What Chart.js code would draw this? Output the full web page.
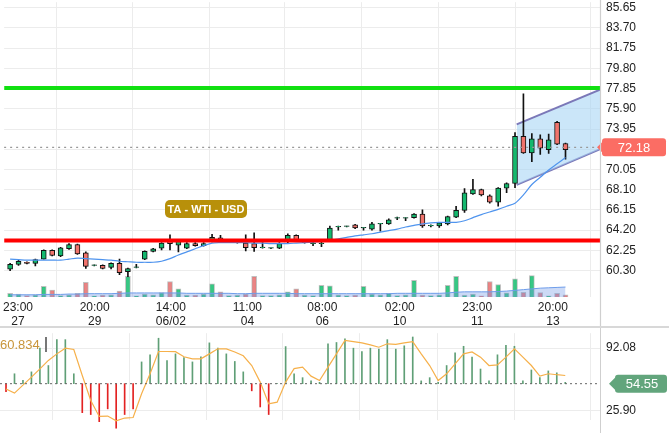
<!DOCTYPE html>
<html>
<head>
<meta charset="utf-8">
<script src="https://cdn.jsdelivr.net/npm/chart.js@4.4.0/dist/chart.umd.min.js"></script>
<style>
  body { margin: 0; background: #fff; width: 669px; height: 433px; overflow: hidden; }
  #main { position: absolute; left: 0; top: -11px; }
  #osc { position: absolute; left: 0; top: 320px; }
  .sep { position: absolute; left: 0; top: 326px; width: 669px; height: 2px; background: #d8d8d8; z-index: 2; }
</style>
</head>
<body>
<canvas id="main" width="669" height="337"></canvas>
<canvas id="osc" width="669" height="113"></canvas>
<div class="sep"></div>
<script>
// candles, one per index
const opens  = [60.43,60.9,61.1,61.0,61.4,62.25,61.7,62.4,62.8,62.0,60.8,60.8,60.6,61.0,60.2,60.6,61.4,62.15,62.45,63.2,62.75,62.45,62.9,62.7,63.1,63.45,63.2,63.0,62.95,62.9,62.5,62.45,62.45,63.2,63.7,63.0,62.9,62.9,63.2,64.5,64.55,64.7,64.4,64.3,64.8,64.8,65.35,65.35,65.4,65.75,64.6,64.6,64.8,65.45,66.1,67.7,68.1,67.5,66.9,68.25,68.7,73.25,71.65,73.0,71.95,74.6,72.55];
const closes = [60.91,61.2,61.0,61.36,62.25,61.77,62.5,62.8,61.9,60.7,60.82,60.5,61.0,60.1,60.5,60.62,62.15,62.4,62.95,62.9,63.2,62.9,62.7,62.9,63.5,63.2,63.2,63.0,62.5,62.5,62.5,62.45,62.9,63.7,63.2,63.0,62.9,62.9,64.4,64.5,64.55,64.4,64.4,64.8,64.8,65.2,65.35,65.35,65.75,64.6,64.6,64.9,65.5,66.1,67.8,68.1,67.6,66.9,68.25,68.7,73.25,71.65,73.0,72.1,72.9,72.5,71.95];
const highs  = [61.0,61.3,61.15,61.4,62.3,62.3,62.55,62.9,62.85,62.1,60.85,60.85,61.05,61.4,60.55,60.9,62.2,62.45,63.0,63.75,63.25,63.0,63.0,63.0,63.8,63.7,63.3,63.1,63.75,63.95,63.0,62.5,63.0,63.85,63.75,63.2,63.1,63.2,64.6,64.6,64.6,64.75,64.45,64.95,64.85,65.3,65.45,65.4,65.8,66.15,64.7,64.95,65.55,66.5,68.2,69.1,68.15,67.6,68.3,68.75,73.6,77.35,73.5,73.4,73.45,74.7,72.6];
const lows   = [60.3,60.8,60.95,60.75,61.4,61.7,61.65,62.35,61.85,60.5,60.75,60.45,60.45,59.9,59.7,60.55,61.35,62.1,62.3,62.3,62.1,62.4,62.65,62.65,63.05,63.1,63.1,62.95,62.2,62.15,62.45,62.4,62.4,63.0,63.1,62.95,62.7,62.6,63.2,64.2,64.5,64.35,64.2,64.2,64.1,64.75,65.2,65.1,65.35,64.45,64.5,64.45,64.7,65.4,65.9,67.65,67.5,66.8,66.5,67.8,68.3,71.6,70.8,71.5,71.6,72.45,71.05];
const priceMA = [61.4,61.35,61.3,61.3,61.3,61.3,61.3,61.4,61.5,61.45,61.4,61.35,61.3,61.2,61.15,61.1,61.1,61.1,61.2,61.45,61.8,62.1,62.4,62.7,62.95,63.0,63.0,63.0,63.0,62.95,62.95,62.9,62.9,62.9,62.95,63.0,63.05,63.1,63.2,63.35,63.5,63.65,63.75,63.85,64.0,64.15,64.3,64.5,64.65,64.8,64.9,64.95,64.95,64.95,65.1,65.4,65.7,65.95,66.2,66.5,66.8,67.6,68.6,69.3,70.0,70.6,71.2];
const volumes = [10,8,4,6,29,19,4,6,10,40,3,5,6,16,56,3,8,6,12,42,22,5,5,8,36,14,4,5,8,56,4,4,6,14,22,5,4,32,30,6,4,5,29,8,6,10,4,6,45,5,4,6,32,56,5,8,3,42,34,11,49,13,58,12,3,10,6];
const volumeMA = [6,6,6,6,7,7,7,8,8,9,9,9,9,10,11,11,11,11,11,11,11,10,10,10,10,10,10,9,9,10,10,10,10,10,9,9,9,9,9,9,9,9,9,9,9,9,10,10,10,10,10,10,11,13,14,14,14,14,15,16,18,20,22,24,25,26,27];
const supportLevel = 63.2;
const resistanceLevel = 77.9;
const lastPrice = 72.18;
const channelTop = [[60.2, 74.4], [70.1, 77.75]];
const channelBottom = [[60.2, 68.57], [70.1, 72.01]];
const priceTicks = [60.30, 62.25, 64.20, 66.15, 68.10, 70.05, 71.99, 73.95, 75.90, 77.85, 79.80, 81.75, 83.70, 85.65];
const timeTickPos = [0.94, 10.05, 19.1, 28.2, 37.1, 46.3, 55.5, 64.5];
const timeLabels = [['23:00','27'],['20:00','29'],['14:00','06/02'],['11:00','04'],['08:00','06'],['02:00','10'],['23:00','11'],['20:00','13']];
// oscillator
const oscLine = [49,44.6,53,61.4,70.2,79.1,86,92,90.6,63.2,36.9,20,20.4,15.4,18.3,18.9,43.9,65,88.5,88.5,88.3,83,80.7,80.7,86,91.3,91.3,88,84,73.7,56.2,33.4,35.1,56.2,70.5,72,62.5,57.9,72,86,100.1,99,97.6,95.5,93,96.6,96,97.5,99,86,73.7,57.9,65,75.5,86,88,82.5,73.7,74.4,82.5,91.3,82.5,73.7,62.5,65,64,63.2];
const oscBars = [46,65,58,67,92,73.7,101,101,65,24,22,14.5,28,7.6,22,28,77.5,85,102.5,79,86,82,77.5,83,97.6,92,86,78,67,47,30,22,54.55,93.7,65,60.9,57.5,56,96.6,98,101.9,92,88.5,92,91,101,91,94.5,103.8,57.5,60.9,56,73.7,87,94,82.5,70,57.5,85,95,94,57.5,69,61,68,66,56];
const oscBase = 54.55;
const oscTicks = [25.90, 92.08];

const font = { family: 'Liberation Sans', size: 12 };
const idx = volumes.map((v, i) => i);
const AXIS_W = 69;

function rightAxisFit(scale) { scale.width = AXIS_W; }

// label boxes, dotted last-price line, title tag
const overlayMain = {
  id: 'overlayMain',
  afterDatasetsDraw(chart) {
    const { ctx, chartArea: a, scales } = chart;
    const y = scales.y.getPixelForValue(lastPrice);
    const off = 11;
    ctx.save();
    ctx.strokeStyle = '#999';
    ctx.setLineDash([2, 4]);
    ctx.lineWidth = 1.2;
    ctx.beginPath(); ctx.moveTo(a.left, y); ctx.lineTo(a.right, y); ctx.stroke();
    ctx.setLineDash([]);
    ctx.fillStyle = '#fb6d64';
    ctx.beginPath(); ctx.roundRect(a.right + 2, y - 9, 64, 18, 3); ctx.fill();
    ctx.beginPath(); ctx.moveTo(a.right + 2, y - 5); ctx.lineTo(a.right - 3, y); ctx.lineTo(a.right + 2, y + 5); ctx.fill();
    ctx.fillStyle = '#fff';
    ctx.font = '13px Liberation Sans';
    ctx.textAlign = 'center'; ctx.textBaseline = 'middle';
    ctx.fillText(lastPrice.toFixed(2), a.right + 34, y + 1);
    // tag
    ctx.fillStyle = '#b8900a';
    ctx.beginPath(); ctx.roundRect(165, 200 + off, 82, 18, 5); ctx.fill();
    ctx.fillStyle = '#fff';
    ctx.font = 'bold 11px Liberation Sans';
    ctx.fillText('TA - WTI - USD', 206, 209.5 + off);
    // axis border
    ctx.strokeStyle = '#cfcfcf';
    ctx.beginPath(); ctx.moveTo(a.right + 0.5, 0); ctx.lineTo(a.right + 0.5, chart.height); ctx.stroke();
    ctx.restore();
  }
};

const overlayOsc = {
  id: 'overlayOsc',
  afterDatasetsDraw(chart) {
    const { ctx, chartArea: a, scales } = chart;
    const y = scales.y.getPixelForValue(oscBase);
    ctx.save();
    ctx.strokeStyle = '#666';
    ctx.setLineDash([2, 3]);
    ctx.beginPath(); ctx.moveTo(a.left, y); ctx.lineTo(a.right, y); ctx.stroke();
    ctx.setLineDash([]);
    ctx.fillStyle = '#62a57c';
    ctx.beginPath(); ctx.roundRect(a.right + 15, y - 9, 52, 18, 3); ctx.fill();
    ctx.beginPath(); ctx.moveTo(a.right + 15, y - 6); ctx.lineTo(a.right + 9, y); ctx.lineTo(a.right + 15, y + 6); ctx.fill();
    ctx.fillStyle = '#fff';
    ctx.font = '13px Liberation Sans';
    ctx.textAlign = 'center'; ctx.textBaseline = 'middle';
    ctx.fillText(oscBase.toFixed(2), a.right + 42, y + 1);
    ctx.fillStyle = '#c8953a';
    ctx.textAlign = 'left';
    ctx.fillText('60.834', 0, 25);
    ctx.fillStyle = '#777';
    ctx.fillRect(45, 17, 2, 15);
    ctx.strokeStyle = '#cfcfcf';
    ctx.beginPath(); ctx.moveTo(a.right + 0.5, 0); ctx.lineTo(a.right + 0.5, chart.height); ctx.stroke();
    ctx.restore();
  }
};

const xMin = -0.71, xMax = 70.1;

new Chart(document.getElementById('main'), {
  type: 'bar',
  data: {
    datasets: [
      {
        type: 'line', label: 'chTop',
        data: channelTop.map(p => ({ x: p[0], y: p[1] })),
        borderColor: '#7b78b8', borderWidth: 2, pointRadius: 0,
        fill: '+1', backgroundColor: 'rgba(168,214,245,0.6)', order: 9
      },
      {
        type: 'line', label: 'chBottom',
        data: channelBottom.map(p => ({ x: p[0], y: p[1] })),
        borderColor: '#7b78b8', borderWidth: 2, pointRadius: 0, fill: false, order: 9
      },
      {
        label: 'volume', yAxisID: 'yv',
        data: idx.map(i => ({ x: i, y: volumes[i] })),
        backgroundColor: idx.map(i => closes[i] >= opens[i] ? 'rgba(20,190,110,0.85)' : 'rgba(230,110,110,0.85)'),
        borderColor: 'rgba(150,150,150,0.6)', borderWidth: 1,
        barThickness: 5, grouped: false, order: 8
      },
      {
        type: 'line', label: 'volMA', yAxisID: 'yv',
        data: idx.map(i => ({ x: i, y: volumeMA[i] })),
        borderColor: '#6d9cea', borderWidth: 1, pointRadius: 0,
        fill: 'origin', backgroundColor: 'rgba(110,150,230,0.35)', order: 7
      },
      {
        label: 'wick',
        data: idx.map(i => ({ x: i, y: [lows[i], highs[i]] })),
        backgroundColor: '#111', barThickness: 1, grouped: false, order: 6
      },
      {
        label: 'body',
        data: idx.map(i => {
          let lo = Math.min(opens[i], closes[i]), hi = Math.max(opens[i], closes[i]);
          if (hi - lo < 0.06) hi = lo + 0.06;
          return { x: i, y: [lo, hi] };
        }),
        backgroundColor: idx.map(i => closes[i] >= opens[i] ? '#14b86e' : '#f0736c'),
        borderColor: '#111', borderWidth: 1, borderSkipped: false,
        barThickness: 5, grouped: false, order: 5
      },
      {
        type: 'line', label: 'ma',
        data: idx.map(i => ({ x: i, y: priceMA[i] })),
        borderColor: '#4f94ee', borderWidth: 1.2, pointRadius: 0, tension: 0.3, order: 4
      },
      {
        type: 'line', label: 'support',
        data: [{ x: xMin, y: supportLevel }, { x: xMax, y: supportLevel }],
        borderColor: '#ff0000', borderWidth: 4, pointRadius: 0, order: 1
      },
      {
        type: 'line', label: 'resist',
        data: [{ x: xMin, y: resistanceLevel }, { x: xMax, y: resistanceLevel }],
        borderColor: '#11e011', borderWidth: 4, pointRadius: 0, order: 1
      }
    ]
  },
  options: {
    responsive: false, animation: false,
    layout: { padding: 0 },
    plugins: { legend: { display: false }, tooltip: { enabled: false } },
    scales: {
      x: {
        type: 'linear', min: xMin, max: xMax, offset: false,
        afterBuildTicks: s => { s.ticks = timeTickPos.map(v => ({ value: v })); },
        afterFit: s => { s.height = 29; },
        ticks: { font, color: '#222', maxRotation: 0, padding: 3, autoSkip: false,
          callback: (v, i) => timeLabels[i] },
        grid: { color: '#ececec', drawTicks: false },
        border: { display: false }
      },
      y: {
        position: 'right', min: 57.75, max: 86.18,
        afterBuildTicks: s => { s.ticks = priceTicks.map(v => ({ value: v })); },
        afterFit: rightAxisFit,
        ticks: { font, color: '#222', padding: 6, callback: v => v.toFixed(2) },
        grid: { color: '#ececec', drawTicks: false },
        border: { display: false }
      },
      yv: { display: false, min: 0, max: 800 }
    }
  },
  plugins: [overlayMain]
});

new Chart(document.getElementById('osc'), {
  type: 'bar',
  data: {
    datasets: [
      {
        type: 'line', label: 'osc', clip: false,
        data: idx.map(i => ({ x: i, y: oscLine[i] })),
        borderColor: '#f6b04a', borderWidth: 1.2, pointRadius: 0, order: 1
      },
      {
        label: 'hist', clip: false,
        data: idx.map(i => ({ x: i, y: [oscBase, oscBars[i]] })),
        backgroundColor: idx.map(i => oscBars[i] >= oscBase ? '#5f9f76' : '#e32222'),
        barThickness: 1, grouped: false, order: 2
      }
    ]
  },
  options: {
    responsive: false, animation: false,
    layout: { padding: 0 },
    plugins: { legend: { display: false }, tooltip: { enabled: false } },
    scales: {
      x: {
        type: 'linear', min: xMin, max: xMax, offset: false,
        afterBuildTicks: s => { s.ticks = timeTickPos.map(v => ({ value: v })); },
        afterFit: s => { s.height = 0; },
        ticks: { display: false },
        grid: { color: '#ececec', drawTicks: false },
        border: { display: false }
      },
      y: {
        position: 'right', min: 16.45, max: 107.8,
        afterBuildTicks: s => { s.ticks = oscTicks.map(v => ({ value: v })); },
        afterFit: rightAxisFit,
        ticks: { font, color: '#222', padding: 6, callback: v => v.toFixed(2) },
        grid: { color: '#ececec', drawTicks: false },
        border: { display: false }
      }
    }
  },
  plugins: [overlayOsc]
});
</script>
</body>
</html>
